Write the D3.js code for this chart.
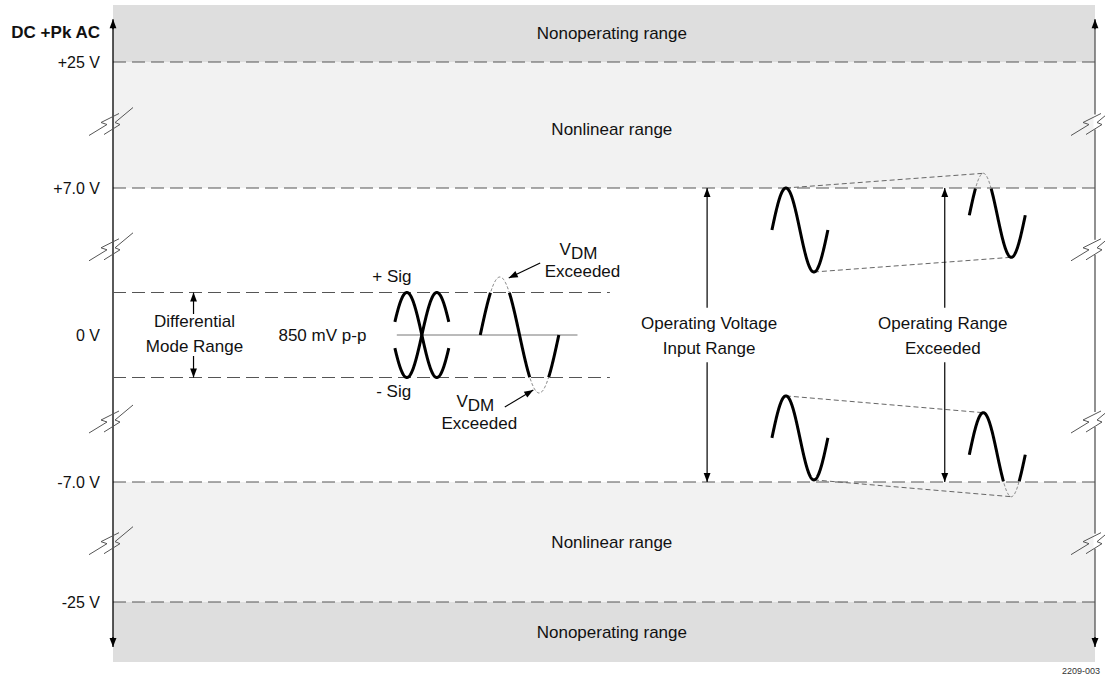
<html>
<head>
<script src="https://cdn.jsdelivr.net/npm/d3@7"></script>
<style>
  body { margin: 0; background: #fff; }
  svg text { font-family: "Liberation Sans", Arial, sans-serif; font-size: 17px; fill: #111; }
</style>
</head>
<body>
<script>
// voltage levels on the axis
var levelValues = [25, 7, 0, -7, -25];
var levelLabels = ["+25 V", "+7.0 V", "0 V", "-7.0 V", "-25 V"];

// shaded ranges (volts)
var bandTop = [31, 25, -7, -25];
var bandBottom = [25, 7, -25, -31];
var bandNames = ["Nonoperating range", "Nonlinear range", "Nonlinear range", "Nonoperating range"];

// axis break marks (volts)
var breakValues = [16.5, 4.2, -4.0, -15.8];

// differential mode: 850 mV p-p -> +/-0.425 V
var diffLimit = 0.425;
// +Sig, -Sig, Vdm exceeded  (x in % of width, period in %, amplitude in V)
var diffStart = [28.4, 28.4, 37.4];
var diffPeriod = [6.1, 6.1, 8.0];
var diffAmp = [0.425, -0.425, 0.58];
var diffPhaseFrom = [0.05, 0.05, 0];
var diffPhaseTo = [0.95, 0.95, 1];

// common mode waves (right side)
var cmStart = [67.1, 87.2, 67.1, 87.2];
var cmPeriod = [5.7, 5.7, 5.7, 5.7];
var cmCenter = [5.0, 5.7, -4.9, -5.7];
var cmAmp = [2.0, 2.0, 2.0, 2.0];

var W = 1105, H = 677;
var svg = d3.select("body").append("svg").attr("width", W).attr("height", H);

var x = d3.scaleLinear().domain([0, 100]).range([113, 1095]);
// broken axis: linear inside +/-7 V, compressed outside
var y = d3.scaleLinear().domain([31, 25, 7, -7, -25, -31]).range([5, 62, 188, 482, 602, 662]);
var yLin = d3.scaleLinear().domain([7, -7]).range([y(7), y(-7)]);
var y0 = yLin(0);
// expanded scale for the differential detail
var yDiff = d3.scaleLinear().domain([-diffLimit, diffLimit]).range([y0 + 42.5, y0 - 42.5]);

var defs = svg.append("defs");
defs.append("marker").attr("id", "head")
  .attr("viewBox", "0 -5 10 10").attr("refX", 10).attr("refY", 0)
  .attr("markerWidth", 11).attr("markerHeight", 9)
  .attr("markerUnits", "userSpaceOnUse").attr("orient", "auto")
  .append("path").attr("d", "M0,-3.8L10,0L0,3.8Z").attr("fill", "#000");

// bands
svg.selectAll("rect.band").data(bandNames).enter().append("rect")
  .attr("class", "band")
  .attr("x", x(0)).attr("width", x(100) - x(0))
  .attr("y", function(d, i) { return y(bandTop[i]); })
  .attr("height", function(d, i) { return y(bandBottom[i]) - y(bandTop[i]); })
  .attr("fill", function(d, i) { return (i == 0 || i == 3) ? "#dedede" : "#f2f2f2"; });

svg.selectAll("text.band").data(bandNames).enter().append("text")
  .attr("x", x(50.8))
  .attr("y", function(d, i) { return (y(bandTop[i]) + y(bandBottom[i])) / 2 + (i == 1 ? 4 : 0); })
  .attr("dy", "0.35em").attr("text-anchor", "middle")
  .text(function(d) { return d; });

// dashed level lines (not at 0)
svg.selectAll("line.level").data(levelValues.filter(function(v) { return v != 0; })).enter()
  .append("line")
  .attr("x1", x(0)).attr("x2", x(100))
  .attr("y1", function(d) { return y(d); }).attr("y2", function(d) { return y(d); })
  .attr("stroke", "#555").attr("stroke-width", 1).attr("stroke-dasharray", "13,6");

// tick labels
svg.selectAll("text.tick").data(levelValues).enter().append("text")
  .attr("x", x(0) - 13).attr("y", function(d) { return y(d); })
  .attr("dy", "0.35em").attr("text-anchor", "end").style("font-size", "16px")
  .text(function(d, i) { return levelLabels[i]; });

svg.append("text").attr("x", x(0) - 13).attr("y", 38).attr("text-anchor", "end")
  .style("font-weight", "bold").text("DC +Pk AC");

// axes with arrows both ends
[0, 100].forEach(function(p) {
  var col = p == 0 ? "#000" : "#555";
  svg.append("line").attr("x1", x(p)).attr("x2", x(p))
    .attr("y1", y(29.5) + 8).attr("y2", y(-29.5) - 8)
    .attr("stroke", col).attr("stroke-width", 1.3);
  svg.append("line").attr("x1", x(p)).attr("x2", x(p))
    .attr("y1", y(29.5) + 10).attr("y2", y(29.5))
    .attr("stroke", "#000").attr("stroke-width", 1.3).attr("marker-end", "url(#head)");
  svg.append("line").attr("x1", x(p)).attr("x2", x(p))
    .attr("y1", y(-29.5) - 10).attr("y2", y(-29.5))
    .attr("stroke", "#000").attr("stroke-width", 1.3).attr("marker-end", "url(#head)");
});

// break marks
var zig1 = [[-24, 14], [-6, 3], [-12, 1], [6, -8]];
var zig2 = [[-9, 13], [7, 3], [2, 1], [20, -14]];
breakValues.forEach(function(v) {
  [0, 100].forEach(function(p) {
    var cx = x(p), cy = y(v);
    if (p == 100) {
      svg.append("line").attr("x1", cx).attr("x2", cx).attr("y1", cy - 7).attr("y2", cy + 8)
        .attr("stroke", "#fff").attr("stroke-width", 3);
    }
    [zig1, zig2].forEach(function(z) {
      svg.append("path")
        .attr("d", d3.line()(z.map(function(q) { return [cx + q[0], cy + q[1]]; })))
        .attr("fill", "none").attr("stroke", "#555").attr("stroke-width", 1);
    });
  });
});

// differential range lines
[diffLimit, -diffLimit].forEach(function(v) {
  svg.append("line").attr("x1", x(0)).attr("x2", x(50.6))
    .attr("y1", yDiff(v)).attr("y2", yDiff(v))
    .attr("stroke", "#555").attr("stroke-width", 1).attr("stroke-dasharray", "13,6");
});
svg.append("line").attr("x1", x(28.9)).attr("x2", x(47.3))
  .attr("y1", yDiff(0)).attr("y2", yDiff(0))
  .attr("stroke", "#777").attr("stroke-width", 1);

function wavePoints(start, period, center, amp, p0, p1) {
  return d3.range(0, 301).map(function(i) {
    var t = p0 + (p1 - p0) * i / 300;
    return { x: start + t * period, v: center + amp * Math.sin(2 * Math.PI * t) };
  });
}

function drawWave(pts, ys, limit) {
  var thin = d3.line().x(function(d) { return x(d.x); }).y(function(d) { return ys(d.v); });
  var thick = d3.line().defined(function(d) { return Math.abs(d.v) <= limit + 1e-6; })
    .x(function(d) { return x(d.x); }).y(function(d) { return ys(d.v); });
  svg.append("path").attr("d", thin(pts)).attr("fill", "none")
    .attr("stroke", "#777").attr("stroke-width", 1).attr("stroke-dasharray", "3,2");
  svg.append("path").attr("d", thick(pts)).attr("fill", "none")
    .attr("stroke", "#000").attr("stroke-width", 3);
}

// differential waves
diffStart.forEach(function(s, i) {
  drawWave(wavePoints(s, diffPeriod[i], 0, diffAmp[i], diffPhaseFrom[i], diffPhaseTo[i]), yDiff, diffLimit);
});

// common mode waves and envelopes
[[0, 1], [2, 3]].forEach(function(pair) {
  [0.25, 0.75].forEach(function(t) {
    var a = pair[0], b = pair[1];
    svg.append("line")
      .attr("x1", x(cmStart[a] + t * cmPeriod[a])).attr("y1", yLin(cmCenter[a] + cmAmp[a] * Math.sin(2 * Math.PI * t)))
      .attr("x2", x(cmStart[b] + t * cmPeriod[b])).attr("y2", yLin(cmCenter[b] + cmAmp[b] * Math.sin(2 * Math.PI * t)))
      .attr("stroke", "#666").attr("stroke-width", 1).attr("stroke-dasharray", "5,3");
  });
});
cmStart.forEach(function(s, i) {
  drawWave(wavePoints(s, cmPeriod[i], cmCenter[i], cmAmp[i], 0, 1), yLin, 7);
});

function arrow(x1, y1, x2, y2) {
  svg.append("line").attr("x1", x1).attr("y1", y1).attr("x2", x2).attr("y2", y2)
    .attr("stroke", "#000").attr("stroke-width", 1.2).attr("marker-end", "url(#head)");
}

// differential mode range arrows
arrow(x(8.2), yDiff(0.21), x(8.2), yDiff(diffLimit));
arrow(x(8.2), yDiff(-0.21), x(8.2), yDiff(-diffLimit));
// operating range arrows
[60.5, 84.7].forEach(function(p) {
  arrow(x(p), yLin(1.3), x(p), yLin(7));
  arrow(x(p), yLin(-1.3), x(p), yLin(-7));
});
// Vdm exceeded arrows
arrow(x(43.5), yDiff(0.72), x(40.3), yDiff(0.57));
arrow(x(39.9), yDiff(-0.72), x(42.8), yDiff(-0.55));

function label(px, py, lines, anchor) {
  var t = svg.append("text").attr("x", px).attr("y", py).attr("text-anchor", anchor || "middle");
  lines.forEach(function(s, i) {
    t.append("tspan").attr("x", px).attr("dy", i == 0 ? 0 : 25).text(s);
  });
}

label(x(8.3), y0 - 8, ["Differential", "Mode Range"]);
label(x(25.8), y0 + 6, ["850 mV p-p"], "end");
label(x(26.4), yDiff(diffLimit) - 11, ["+ Sig"], "start");
label(x(26.8), yDiff(-diffLimit) + 19, ["- Sig"], "start");
label(x(60.7), y0 - 6, ["Operating Voltage", "Input Range"]);
label(x(84.5), y0 - 6, ["Operating Range", "Exceeded"]);

function vdm(px, py) {
  var t = svg.append("text").attr("x", px).attr("y", py).attr("text-anchor", "middle");
  t.append("tspan").text("V");
  t.append("tspan").attr("dy", 4).text("DM");
  svg.append("text").attr("x", px + 4).attr("y", py + 22).attr("text-anchor", "middle").text("Exceeded");
}
vdm(x(47.4), yDiff(0) - 80);
vdm(x(36.9), yDiff(0) + 72);

svg.append("text").attr("x", W - 5).attr("y", H - 3).attr("text-anchor", "end")
  .style("font-size", "9px").style("fill", "#333").text("2209-003");
</script>
</body>
</html>
